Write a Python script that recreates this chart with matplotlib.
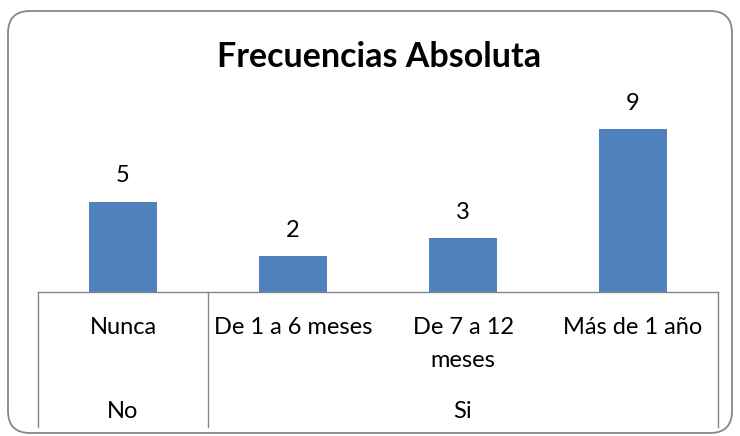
import matplotlib
matplotlib.use("Agg")
import matplotlib.pyplot as plt
from matplotlib.patches import FancyBboxPatch
from matplotlib.lines import Line2D
from matplotlib.transforms import blended_transform_factory

categories = ["Nunca", "De 1 a 6 meses", "De 7 a 12\nmeses", "Más de 1 año"]
groups = ["No", "Si"]
group_spans = [(0, 0), (1, 3)]
values = [5, 2, 3, 9]
title = "Frecuencias Absoluta"

plt.rcParams['font.family'] = ['Lato', 'DejaVu Sans']

W, H = 740, 436
fig = plt.figure(figsize=(W / 100, H / 100), dpi=100)
ax = fig.add_axes([38 / W, 1 - 292 / H, 680 / W, 232 / H])
x = list(range(len(categories)))
bars = ax.bar(x, values, width=0.4, color="#4F81BD")
ax.set_xlim(-0.5, len(categories) - 0.5)
ax.set_ylim(0, 232 / 18.1)
ax.axis("off")

for xi, v in zip(x, values):
    ax.annotate(str(v), (xi, v), xytext=(0, 13.7), textcoords="offset points",
                ha="center", va="baseline", fontsize=17, color="black")

tr = blended_transform_factory(ax.transData, fig.transFigure)
gray = "#868686"
fig.add_artist(Line2D([-0.5, len(categories) - 0.5], [1 - 292 / H] * 2,
                      transform=tr, color=gray, lw=1.0))
bounds = [-0.5] + [s[0] - 0.5 for s in group_spans[1:]] + [len(categories) - 0.5]
for b in bounds:
    fig.add_artist(Line2D([b, b], [1 - 292 / H, 1 - 427 / H], transform=tr,
                          color=gray, lw=1.0))

for xi, c in zip(x, categories):
    for i, line in enumerate(c.split("\n")):
        ax.text(xi, 1 - (334 + 33 * i) / H, line, transform=tr, ha="center",
                va="baseline", fontsize=17)
for g, (a, b) in zip(groups, group_spans):
    ax.text((a + b) / 2, 1 - 418 / H, g, transform=tr, ha="center",
            va="baseline", fontsize=17)

fig.text(379 / W, 1 - 57 / H, title, ha="center", va="center",
         fontsize=24.5, fontweight="bold")

border = FancyBboxPatch((8, 3), 724, 422, boxstyle="round,pad=0,rounding_size=22",
                        transform=None, fill=False, edgecolor=gray, lw=1.3)
fig.add_artist(border)

fig.savefig("out.png", dpi=100)
